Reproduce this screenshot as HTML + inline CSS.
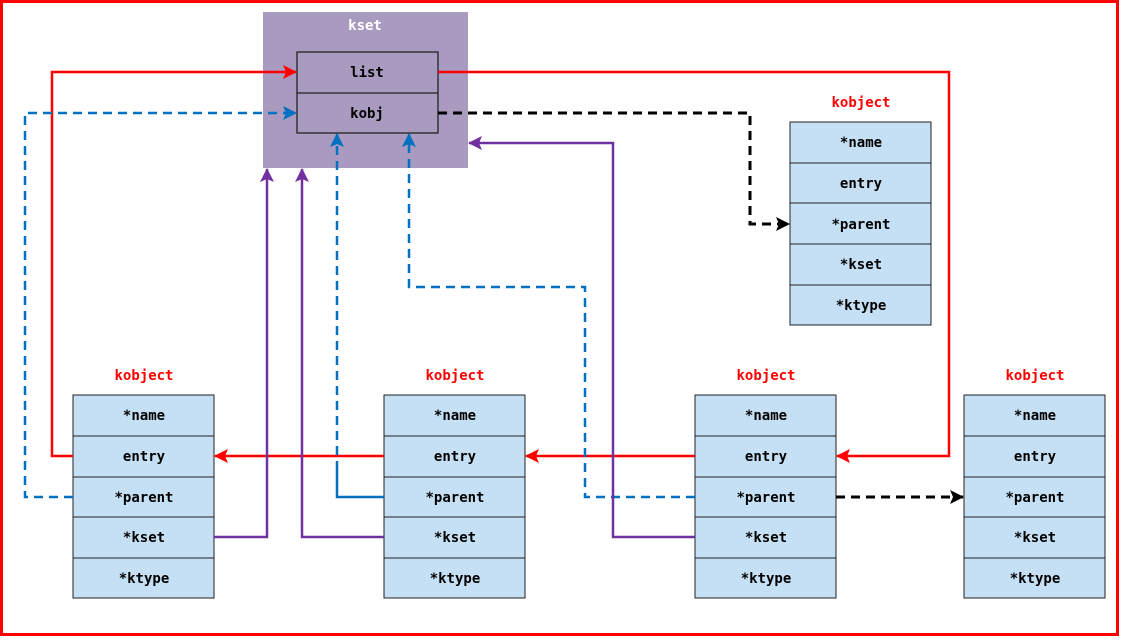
<!DOCTYPE html>
<html><head><meta charset="utf-8"><style>
html,body{margin:0;padding:0;background:#fff}
text{font-family:"DejaVu Sans Mono","Liberation Mono",monospace;font-weight:bold;font-size:14px;text-anchor:middle;dominant-baseline:central}
</style></head><body>
<svg width="1121" height="637" viewBox="0 0 1121 637" xmlns="http://www.w3.org/2000/svg">
<defs>
<marker id="ar" markerWidth="14" markerHeight="14" refX="13" refY="7" orient="auto" markerUnits="userSpaceOnUse"><path d="M0,0L14,7L0,14L3,7z" fill="#f00"/></marker>
<marker id="ab" markerWidth="14" markerHeight="14" refX="13" refY="7" orient="auto" markerUnits="userSpaceOnUse"><path d="M0,0L14,7L0,14L3,7z" fill="#0070c0"/></marker>
<marker id="ak" markerWidth="14" markerHeight="14" refX="13" refY="7" orient="auto" markerUnits="userSpaceOnUse"><path d="M0,0L14,7L0,14L3,7z" fill="#000"/></marker>
<marker id="ap" markerWidth="14" markerHeight="14" refX="13" refY="7" orient="auto" markerUnits="userSpaceOnUse"><path d="M0,0L14,7L0,14L3,7z" fill="#7030a0"/></marker>
</defs>
<rect x="1.5" y="1.5" width="1116" height="633" fill="none" stroke="#f00" stroke-width="3"/>
<rect x="263" y="12" width="205" height="156" fill="#a99bc0"/>
<g transform="translate(0,1)">
<text x="365" y="25" fill="#fff">kset</text>
</g>
<rect x="297" y="52" width="141" height="81" fill="#a99bc0" stroke="#222" stroke-width="1.3"/>
<line x1="297" y1="93" x2="438" y2="93" stroke="#222" stroke-width="1.3"/>
<g fill="#c5dff4" stroke="#222" stroke-width="1">
<rect x="73" y="395" width="141" height="203"/>
<rect x="384" y="395" width="141" height="203"/>
<rect x="695" y="395" width="141" height="203"/>
<rect x="964" y="395" width="141" height="203"/>
<rect x="790" y="122" width="141" height="203"/>
<path d="M73 436H214M73 477H214M73 517H214M73 558H214M384 436H525M384 477H525M384 517H525M384 558H525M695 436H836M695 477H836M695 517H836M695 558H836M964 436H1105M964 477H1105M964 517H1105M964 558H1105M790 163H931M790 203H931M790 244H931M790 285H931"/>
</g>
<g transform="translate(0,1)">
<text x="367" y="72">list</text>
<text x="367" y="113">kobj</text>
<g fill="#f00">
<text x="144" y="375">kobject</text><text x="455" y="375">kobject</text><text x="766" y="375">kobject</text><text x="1035" y="375">kobject</text><text x="861" y="102">kobject</text>
</g>
<text x="144" y="415">*name</text><text x="144" y="456">entry</text><text x="144" y="497">*parent</text><text x="144" y="537">*kset</text><text x="144" y="578">*ktype</text>
<text x="455" y="415">*name</text><text x="455" y="456">entry</text><text x="455" y="497">*parent</text><text x="455" y="537">*kset</text><text x="455" y="578">*ktype</text>
<text x="766" y="415">*name</text><text x="766" y="456">entry</text><text x="766" y="497">*parent</text><text x="766" y="537">*kset</text><text x="766" y="578">*ktype</text>
<text x="1035" y="415">*name</text><text x="1035" y="456">entry</text><text x="1035" y="497">*parent</text><text x="1035" y="537">*kset</text><text x="1035" y="578">*ktype</text>
<text x="861" y="142">*name</text><text x="861" y="183">entry</text><text x="861" y="224">*parent</text><text x="861" y="264">*kset</text><text x="861" y="305">*ktype</text>
</g>
<g fill="none" stroke-width="2.5">
<path d="M73 456H52V72H296" stroke="#f00" marker-end="url(#ar)"/>
<path d="M438 72H949V456H837" stroke="#f00" marker-end="url(#ar)"/>
<path d="M695 456H526" stroke="#f00" marker-end="url(#ar)"/>
<path d="M384 456H215" stroke="#f00" marker-end="url(#ar)"/>
<path d="M73 497H25V113H296" stroke="#0070c0" stroke-dasharray="9,6" marker-end="url(#ab)"/>
<path d="M384 497H337V470" stroke="#0070c0"/>
<path d="M337 470V134" stroke="#0070c0" stroke-dasharray="9,6" marker-end="url(#ab)"/>
<path d="M695 497H585V287H409V134" stroke="#0070c0" stroke-dasharray="9,6" marker-end="url(#ab)"/>
<path d="M438 113H750V224H789" stroke="#000" stroke-width="3" stroke-dasharray="9,6" marker-end="url(#ak)"/>
<path d="M836 497H963" stroke="#000" stroke-width="3" stroke-dasharray="9,6" marker-end="url(#ak)"/>
<path d="M214 537H267V169" stroke="#7030a0" marker-end="url(#ap)"/>
<path d="M384 537H302V169" stroke="#7030a0" marker-end="url(#ap)"/>
<path d="M695 537H613V143H469" stroke="#7030a0" marker-end="url(#ap)"/>
</g>
</svg>
</body></html>
